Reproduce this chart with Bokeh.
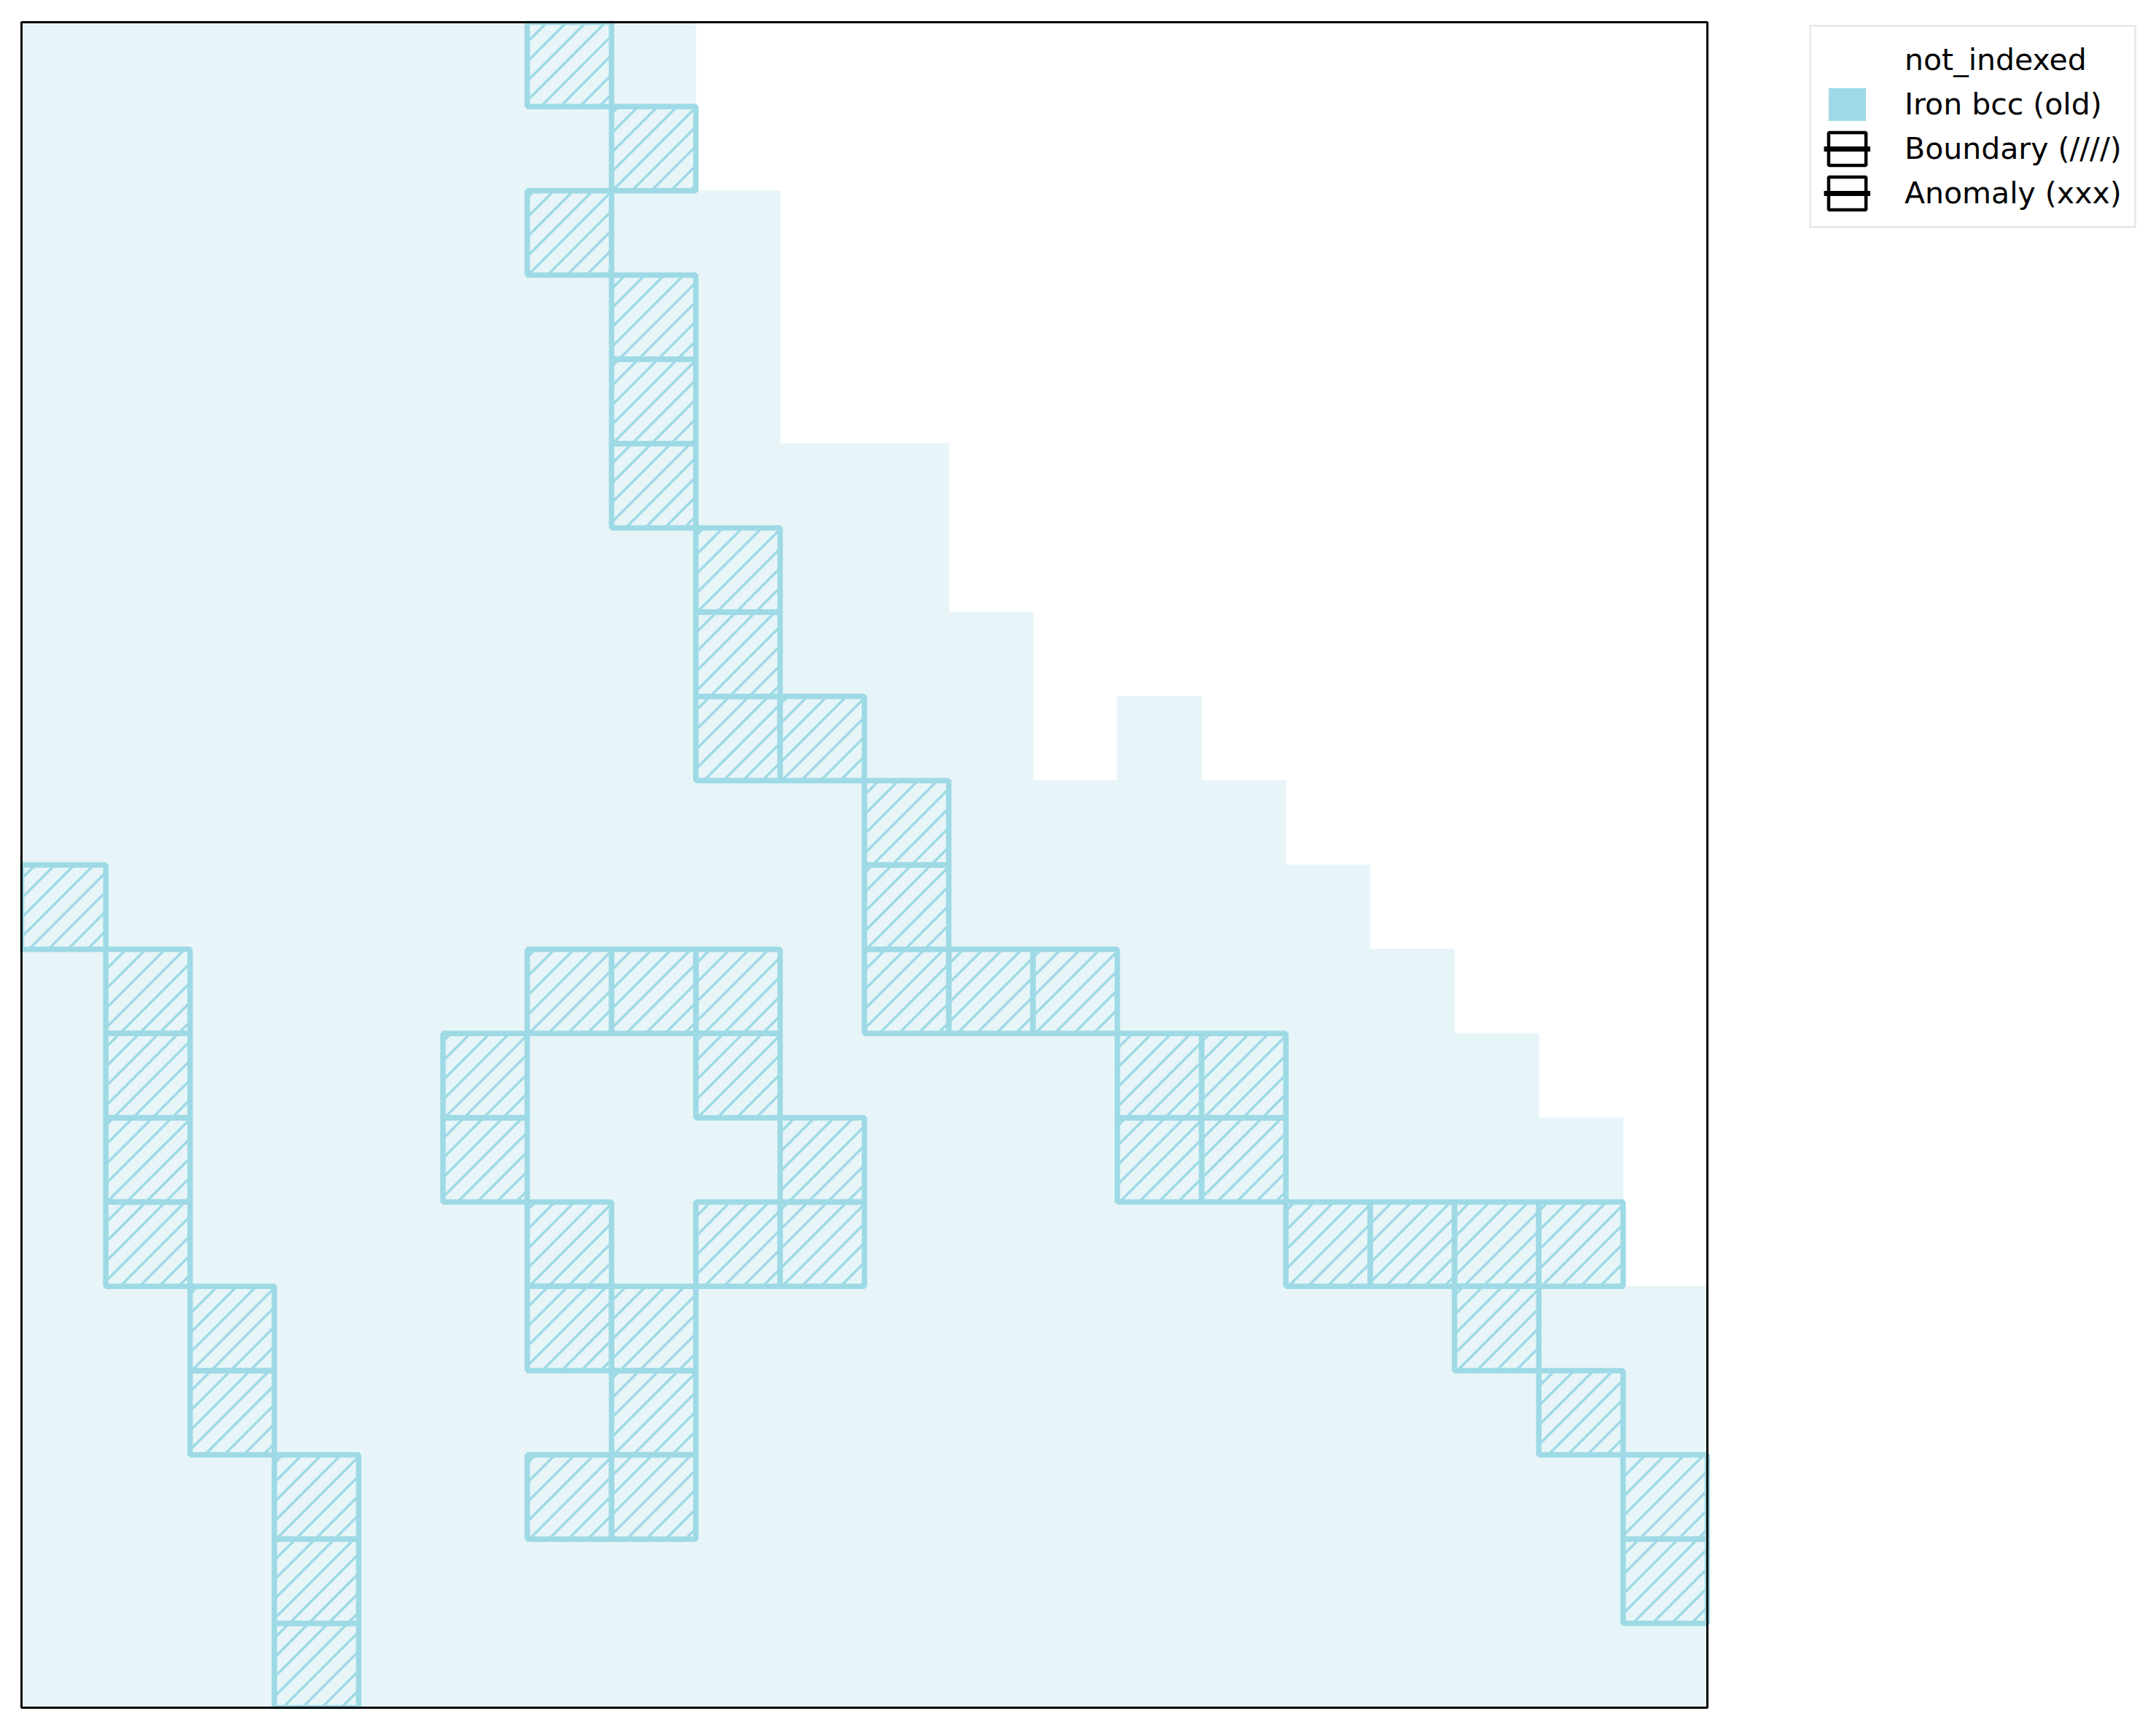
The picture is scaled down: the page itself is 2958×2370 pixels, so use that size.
import math
from bokeh.plotting import figure
from bokeh.models import Range1d, Legend, LegendItem, ColumnDataSource
from bokeh.embed import file_html
from bokeh.resources import INLINE

# ---------------- data ----------------
n_rows = 20
n_cols = 20
# number of indexed (Iron bcc) cells from the left edge, per row (top to bottom)
row_extent = [8, 8, 9, 9, 9, 11, 11, 12, 12, 15, 16, 17, 18, 19, 19, 20, 20, 20, 20, 20]
# isolated indexed cells (row, col)
extra_indexed = [(8, 13)]
# boundary cells (hatched "////"), column indices per row
boundary_cols = [
    [6], [7], [6], [7], [7], [7], [8], [8], [8, 9], [10],
    [0, 10], [1, 6, 7, 8, 10, 11, 12], [1, 5, 8, 13, 14], [1, 5, 9, 13, 14],
    [1, 6, 8, 9, 15, 16, 17, 18], [2, 6, 7, 17], [2, 7, 18], [3, 6, 7, 19], [3, 19], [3],
]
# anomaly cells (hatched "xxx"), none present in this map
anomaly_cells = []

labels = ["not_indexed", "Iron bcc (old)", "Boundary (////)", "Anomaly (xxx)"]
phase_color = "#9edae5"
phase_light = "#e7f5f8"
hatch_spacing = 0.231          # horizontal distance between hatch lines, in cell units

# ---------------- build cell tables ----------------
indexed = [[c < row_extent[r] for c in range(n_cols)] for r in range(n_rows)]
for r, c in extra_indexed:
    indexed[r][c] = True

idx = {"left": [], "right": [], "top": [], "bottom": []}
nidx = {"left": [], "right": [], "top": [], "bottom": []}
for r in range(n_rows):
    for c in range(n_cols):
        d = idx if indexed[r][c] else nidx
        d["left"].append(c)
        d["right"].append(c + 1)
        d["top"].append(r)
        d["bottom"].append(r + 1)

bnd = {"left": [], "right": [], "top": [], "bottom": []}
for r, cols in enumerate(boundary_cols):
    for c in cols:
        bnd["left"].append(c)
        bnd["right"].append(c + 1)
        bnd["top"].append(r)
        bnd["bottom"].append(r + 1)

anom = {"left": [c for r, c in anomaly_cells], "right": [c + 1 for r, c in anomaly_cells],
        "top": [r for r, c in anomaly_cells], "bottom": [r + 1 for r, c in anomaly_cells]}


def diagonal_hatch(cells):
    """45-degree '/' hatch segments clipped to each unit cell (y axis points down)."""
    hx0, hy0, hx1, hy1 = [], [], [], []
    for x0, y0 in cells:
        s = x0 + y0
        k = math.floor(s / hatch_spacing) + 1
        while k * hatch_spacing < s + 2:
            t = k * hatch_spacing - s
            if t <= 1:
                a, b = (x0, y0 + t), (x0 + t, y0)
            else:
                a, b = (x0 + t - 1, y0 + 1), (x0 + 1, y0 + t - 1)
            hx0.append(a[0]); hy0.append(a[1]); hx1.append(b[0]); hy1.append(b[1])
            k += 1
    return dict(x0=hx0, y0=hy0, x1=hx1, y1=hy1)


bnd_hatch = diagonal_hatch(list(zip(bnd["left"], bnd["top"])))

# ---------------- figure ----------------
map_px = 2313                      # pixel size of the square map
px_per_unit = map_px / n_cols
pad_px = 2                         # tiny room so the axes box is not clipped
pad = pad_px / px_per_unit
fig_w = 2950
b_left, b_right = 29 - pad_px, 10
b_top, b_bottom = 30 - pad_px, 20 - pad_px
fig_h = b_top + map_px + 2 * pad_px + b_bottom
frame_w = fig_w - b_left - b_right
x_end = -pad + frame_w / px_per_unit   # frame extends to the right to host the legend

p = figure(width=fig_w, height=fig_h,
           x_range=Range1d(-pad, x_end), y_range=Range1d(n_rows + pad, -pad),
           output_backend="svg", toolbar_location=None,
           x_axis_location=None, y_axis_location=None,
           min_border_left=b_left, min_border_right=b_right,
           min_border_top=b_top, min_border_bottom=b_bottom)
p.grid.visible = False
p.outline_line_color = None
p.background_fill_color = "white"

r_not = p.quad(source=ColumnDataSource(nidx), left="left", right="right", top="top", bottom="bottom",
               fill_color="white", line_color=None)
r_idx = p.quad(source=ColumnDataSource(idx), left="left", right="right", top="top", bottom="bottom",
               fill_color=phase_light, line_color=phase_light, line_width=1)
# hatch lines of boundary cells
p.segment(source=ColumnDataSource(bnd_hatch), x0="x0", y0="y0", x1="x1", y1="y1",
          line_color=phase_color, line_width=3.5)
r_bnd = p.quad(source=ColumnDataSource(bnd), left="left", right="right", top="top", bottom="bottom",
               fill_alpha=0, line_color=phase_color, line_width=7.5)
r_anom = p.quad(source=ColumnDataSource(anom), left="left", right="right", top="top", bottom="bottom",
                fill_alpha=0, line_color=phase_color, line_width=7.5,
                hatch_pattern="x", hatch_color=phase_color, hatch_scale=54, hatch_weight=3)

# axes box around the map
p.quad(left=[0], right=[n_cols], top=[0], bottom=[n_rows], fill_alpha=0,
       line_color="black", line_width=3)

# legend proxies (one NaN point each so they never show on the map)
nan = float("nan")
leg_iron = p.quad(left=[nan], right=[nan], top=[nan], bottom=[nan], fill_color=phase_color, line_color=None)
leg_b_line = p.line(x=[nan], y=[nan], line_color="black", line_width=7)
leg_b_box = p.quad(left=[nan], right=[nan], top=[nan], bottom=[nan], fill_alpha=0,
                   line_color="black", line_width=4.5)
leg_a_line = p.line(x=[nan], y=[nan], line_color="black", line_width=7)
leg_a_box = p.quad(left=[nan], right=[nan], top=[nan], bottom=[nan], fill_alpha=0,
                   line_color="black", line_width=4.5)

legend = Legend(items=[
    LegendItem(label=labels[0], renderers=[r_not]),
    LegendItem(label=labels[1], renderers=[leg_iron]),
    LegendItem(label=labels[2], renderers=[leg_b_line, leg_b_box]),
    LegendItem(label=labels[3], renderers=[leg_a_line, leg_a_box]),
])
# bottom-left corner of the legend box, in pixels from the frame's bottom-left
legend.location = (2482 - b_left, 2032)
legend.glyph_width = 64
legend.glyph_height = 56
legend.label_height = 48
legend.spacing = 5
legend.padding = 17
legend.label_standoff = 47
legend.label_text_font = "DejaVu Sans"
legend.label_text_font_size = "41px"
legend.label_text_color = "black"
legend.border_line_color = "#d5d5d5"
legend.border_line_width = 3
legend.background_fill_color = "white"
legend.background_fill_alpha = 1.0
p.add_layout(legend)

open("out.html", "w").write(file_html(p, INLINE))
